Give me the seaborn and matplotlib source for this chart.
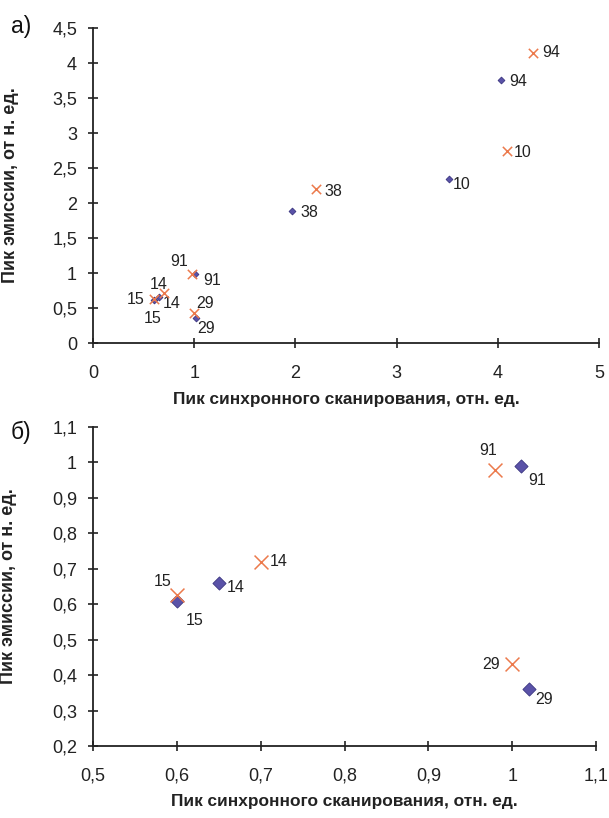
import matplotlib
matplotlib.use("Agg")
import matplotlib.pyplot as plt
from matplotlib.ticker import FuncFormatter
import pandas as pd
import seaborn as sns

# Data: sample numbers, blue diamonds (series 1) and orange crosses (series 2)
samples = ["15", "14", "91", "29", "38", "10", "94"]
blue_x = [0.60, 0.65, 1.01, 1.02, 1.97, 3.52, 4.03]
blue_y = [0.61, 0.66, 0.99, 0.36, 1.89, 2.34, 3.76]
orange_x = [0.60, 0.70, 0.98, 1.00, 2.20, 4.09, 4.35]
orange_y = [0.625, 0.72, 0.98, 0.43, 2.20, 2.74, 4.15]
zoom_samples = ["15", "14", "91", "29"]

xlabel = "Пик синхронного сканирования, отн. ед."
ylabel = "Пик эмиссии, от н. ед."

# label offsets (points, text centre) per sample, per panel
off_top_blue = {"15": (-1, -13), "14": (9, -5), "91": (12, -5), "29": (7, -8),
                "38": (12, -1.5), "10": (9, -3.5), "94": (12.5, -1)}
off_top_orange = {"15": (-13, 0), "14": (-4, 5.5), "91": (-9.5, 9), "29": (8, 6.5),
                  "38": (13, -1.5), "10": (11.5, -1), "94": (13, 0)}
off_bot_blue = {"15": (12.5, -14), "14": (12, -3.5), "91": (12, -10.5), "29": (11, -7)}
off_bot_orange = {"15": (-10, 10), "14": (13, 0), "91": (-5, 14), "29": (-15.5, 0)}

blue_df = pd.DataFrame({"x": blue_x, "y": blue_y, "s": samples})
orange_df = pd.DataFrame({"x": orange_x, "y": orange_y, "s": samples})

sns.set_style("ticks")
plt.rcParams["font.family"] = ["Liberation Sans", "DejaVu Sans"]

blue = "#5a52a8"
orange = "#ec7a4c"
ink = "#222222"
comma = FuncFormatter(lambda v, p: f"{v:g}".replace(".", ","))

fig = plt.figure(figsize=(6.09, 8.18), dpi=100)
ax1 = fig.add_axes([93 / 609, 1 - 343 / 818, 506 / 609, 315 / 818])
ax2 = fig.add_axes([93 / 609, 1 - 746 / 818, 503 / 609, 319 / 818])


def draw(ax, bdf, odf, boff, ooff, msize_b, msize_o):
    sns.scatterplot(data=bdf, x="x", y="y", ax=ax, marker="D", s=msize_b,
                    color=blue, edgecolor="#3a3580", linewidth=0.6, zorder=3)
    sns.scatterplot(data=odf, x="x", y="y", ax=ax, marker="x", s=msize_o,
                    color=orange, linewidth=1.1, zorder=4)
    for df, off in [(bdf, boff), (odf, ooff)]:
        for _, r in df.iterrows():
            ax.annotate(r["s"], (r["x"], r["y"]), xytext=off[r["s"]],
                        textcoords="offset points", fontsize=11.5, color=ink,
                        ha="center", va="center")
    sns.despine(ax=ax)
    ax.xaxis.set_major_formatter(comma)
    ax.yaxis.set_major_formatter(comma)
    ax.tick_params(labelsize=13, length=7, width=1.2, direction="inout",
                   colors=ink)
    ax.tick_params(axis="x", pad=12)
    ax.tick_params(axis="y", pad=8)
    for sp in ["left", "bottom"]:
        ax.spines[sp].set_linewidth(1.3)
        ax.spines[sp].set_color(ink)
    ax.set_xlabel(xlabel, fontsize=12.4, fontweight="bold", color=ink)
    ax.set_ylabel(ylabel, fontsize=13, fontweight="bold", color=ink)


draw(ax1, blue_df, orange_df, off_top_blue, off_top_orange, 12, 45)
ax1.set_xlim(0, 5)
ax1.set_ylim(0, 4.5)
ax1.set_xticks([0, 1, 2, 3, 4, 5])
ax1.set_yticks([0, 0.5, 1, 1.5, 2, 2.5, 3, 3.5, 4, 4.5])
ax1.xaxis.set_label_coords(0.5, -0.155)
ax1.yaxis.set_label_coords(-0.147, 0.5)

draw(ax2, blue_df[blue_df["s"].isin(zoom_samples)],
     orange_df[orange_df["s"].isin(zoom_samples)],
     off_bot_blue, off_bot_orange, 45, 100)
ax2.set_xlim(0.5, 1.1)
ax2.set_ylim(0.2, 1.1)
ax2.set_xticks([0.5, 0.6, 0.7, 0.8, 0.9, 1.0, 1.1])
ax2.set_yticks([0.2, 0.3, 0.4, 0.5, 0.6, 0.7, 0.8, 0.9, 1.0, 1.1])
ax2.xaxis.set_label_coords(0.5, -0.15)
ax2.yaxis.set_label_coords(-0.152, 0.5)

fig.text(21 / 609, 1 - 27 / 818, "а)", fontsize=16.5, ha="center", va="center", color="#111111")
fig.text(21 / 609, 1 - 432 / 818, "б)", fontsize=16.5, ha="center", va="center", color="#111111")

fig.savefig("out.png", dpi=100, facecolor="white")
